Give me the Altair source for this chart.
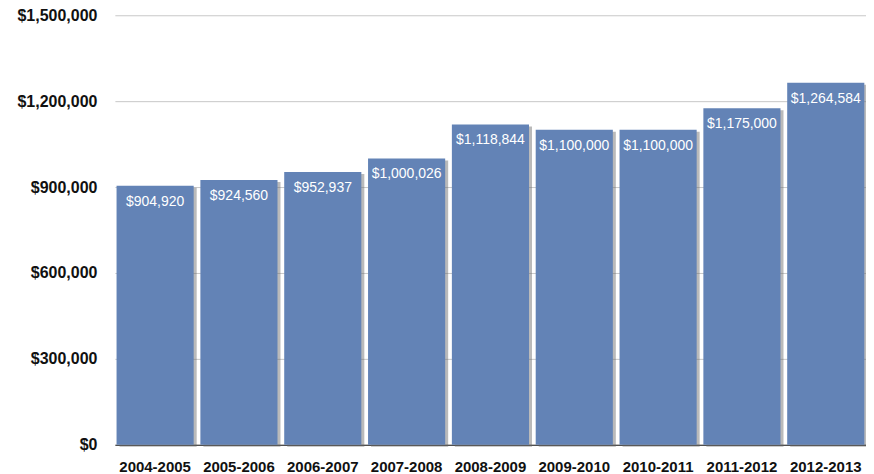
import altair as alt
import pandas as pd

years = ["2004-2005", "2005-2006", "2006-2007", "2007-2008", "2008-2009",
         "2009-2010", "2010-2011", "2011-2012", "2012-2013"]
amounts = [904920, 924560, 952937, 1000026, 1118844, 1100000, 1100000, 1175000, 1264584]

df = pd.DataFrame({"year": years, "amount": amounts})
df["label"] = ["${:,}".format(v) for v in amounts]

FONT = "Liberation Sans"

x = alt.X("year:N", sort=years, title=None,
          scale=alt.Scale(paddingInner=0.08, paddingOuter=0.02),
          axis=alt.Axis(labelAngle=0, ticks=False, domain=True, domainColor="#222",
                        domainWidth=1.2, labelFontSize=15, labelFontWeight="bold",
                        labelColor="#111", labelPadding=15, labelFont=FONT, grid=False))
y = alt.Y("amount:Q", title=None,
          scale=alt.Scale(domain=[0, 1500000], nice=False),
          axis=alt.Axis(values=[0, 300000, 600000, 900000, 1200000, 1500000],
                        format="$,.0f", ticks=False, domain=False,
                        gridColor="#c8c8c8", gridWidth=1,
                        labelFontSize=16, labelFontWeight="bold", labelColor="#111",
                        labelPadding=18, labelFont=FONT, labelBaseline="middle"))

base = alt.Chart(df)

shadow = base.mark_bar(color="#666", opacity=0.45, xOffset=3, yOffset=2).encode(x=x, y=y)
bars = base.mark_bar(color="#6383b6").encode(x=x, y=y)
text = base.mark_text(color="white", baseline="top", dy=9, fontSize=14,
                      font=FONT).encode(x=x, y=y, text="label:N")

chart = alt.layer(shadow, bars, text).properties(
    width=752, height=430,
    background="white",
    autosize=alt.AutoSizeParams(type="none"),
    padding={"left": 107, "top": 7, "right": 0, "bottom": 29},
).configure_view(stroke=None)

chart.save("out.html", embed_options={"renderer": "svg", "actions": False})
